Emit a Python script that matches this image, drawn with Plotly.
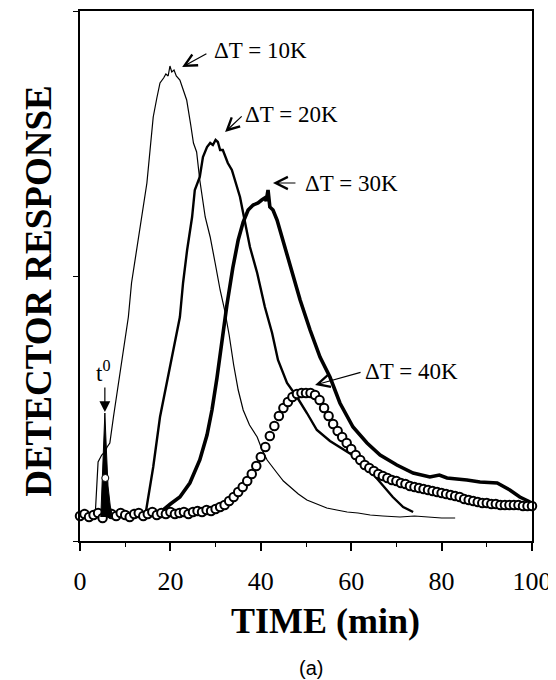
import plotly.graph_objects as go

# ---------------- data (time in min, detector response in arbitrary units) ----------------
t_10K = [0, 1, 2, 3, 3.4, 3.7, 4.0, 4.8, 5.5, 6.0, 6.6, 7.4, 8.5, 9.6, 10.7, 11.4, 12.5, 13.7,
         14.8, 15.5, 16.2, 17.0, 17.7, 18.5, 19.0, 19.5, 19.9, 20.3, 20.8, 21.3, 22.1, 23.0,
         23.6, 24.5, 25.1, 25.8, 26.5, 27.7, 28.8, 29.9, 31.0, 32.0, 33.0, 34.0, 35.0, 36.1,
         37.5, 39.2, 40.3, 41.4, 42.5, 43.6, 45.0, 46.5, 48.3, 50.2, 52.3, 54.6, 56.8, 59.1,
         61.5, 64.2, 67.0, 70.8, 74.0, 77.4, 80.0, 83.0]
r_10K = [26, 25, 27, 26, 29, 58, 79, 86, 89, 94, 98, 124, 158, 191, 224, 258, 291, 324,
         358, 391, 424, 443, 458, 463, 467, 465, 475, 469, 471, 465, 461, 449,
         441, 416, 398, 389, 361, 324, 304, 278, 251, 231, 206, 176, 151, 131,
         116, 104, 91, 81, 74, 68, 60, 54, 47, 41, 37, 33, 31, 29,
         28, 26, 25, 24, 25, 24, 23, 23]

t_20K = [6, 8, 10, 12, 13.5, 14.4, 15.0, 16.2, 17.7, 19.2, 20.6, 22.1, 22.8, 23.7, 24.8,
         25.4, 26.5, 27.2, 28.1, 28.8, 29.4, 30.0, 30.5, 31.0, 31.6, 32.1, 32.7, 33.6, 35.4,
         36.1, 37.6, 39.2, 40.9, 42.5, 43.8, 45.8, 48.0, 50.2, 52.4, 55.3, 59.1, 61.3, 63.5,
         66.4, 69.2, 71.5, 73.7]
r_20K = [26, 25, 27, 26, 27, 24, 41, 74, 124, 158, 191, 224, 258, 291, 324,
         351, 364, 384, 394, 398, 396, 401, 399, 391, 391, 384, 378, 371, 344,
         328, 294, 268, 234, 208, 181, 158, 144, 128, 111, 100, 89, 83, 74,
         59, 44, 34, 29]

t_30K = [6, 8, 10, 12, 13.3, 15, 16.5, 18.4, 20, 22.1, 24.3, 26.5, 28.1, 29.2, 30.3, 31.4,
         32.5, 33.8, 35, 36.1, 37.2, 38.3, 39.4, 40.2, 40.9, 41.2, 41.6, 42.0, 42.7, 43.6,
         44.9, 46.5, 48.7, 50.9, 53.1, 55.3, 57.5, 60.4, 63.5, 66.4, 70.1, 73.7, 77.4, 79.5,
         81.2, 85.6, 88.5, 92.3, 95.1, 97.3, 99.6]
r_30K = [25, 27, 26, 25, 25, 26, 28, 31, 37, 44, 58, 81, 106, 131, 163, 201,
         236, 273, 301, 319, 331, 336, 338, 341, 343, 340, 351, 334, 331, 321,
         301, 276, 241, 211, 184, 164, 138, 114, 98, 86, 76, 68, 64, 66,
         63, 61, 59, 58, 51, 44, 39]

t_40K = list(range(0, 101))
r_40K = [25, 27, 24, 26, 28, 23, 29, 27, 25, 28, 26, 24, 27, 28, 25, 27, 29, 26, 28, 27,
         29, 27, 28, 29, 27, 29, 30, 29, 31, 30, 32, 34, 36, 40, 44, 49, 54, 60, 67, 75,
         84, 94, 105, 115, 125, 133, 139, 144, 147, 148, 148, 148, 146, 141, 133, 125, 117, 110, 104, 98,
         92, 86, 81, 76, 73, 70, 67, 65, 63, 61, 60, 58, 57, 55, 54, 53, 52, 51, 50, 49,
         48, 47, 46, 45, 44, 42, 41, 40, 39, 38, 38, 37, 37, 36, 36, 36, 36, 36, 35, 35, 35]

# injection peak at t0
t_inj = [4.6, 4.9, 5.2, 5.5, 5.8, 6.2, 6.7, 7.2]
r_inj = [24, 55, 95, 128, 95, 55, 35, 24]
t_inj_circle = [5.6]
r_inj_circle = [63]

labels = ["ΔT = 10K", "ΔT = 20K", "ΔT = 30K", "ΔT = 40K"]
x_ticks = [0, 20, 40, 60, 80, 100]

# ---------------- figure ----------------
SERIF = "Liberation Serif, Times New Roman, serif"
fig = go.Figure()

fig.add_trace(go.Scatter(x=t_10K, y=r_10K, mode="lines",
                         line=dict(color="black", width=1.2), name=labels[0]))
fig.add_trace(go.Scatter(x=t_20K, y=r_20K, mode="lines",
                         line=dict(color="black", width=2.4), name=labels[1]))
fig.add_trace(go.Scatter(x=t_30K, y=r_30K, mode="lines",
                         line=dict(color="black", width=3.6), name=labels[2]))
fig.add_trace(go.Scatter(x=t_40K, y=r_40K, mode="markers", cliponaxis=False,
                         marker=dict(symbol="circle", size=8.5, color="white",
                                     line=dict(color="black", width=2)),
                         name=labels[3]))
fig.add_trace(go.Scatter(x=t_inj, y=r_inj, mode="lines", fill="toself",
                         fillcolor="black", line=dict(color="black", width=1)))
fig.add_trace(go.Scatter(x=t_inj_circle, y=r_inj_circle, mode="markers",
                         marker=dict(symbol="circle", size=7, color="white",
                                     line=dict(color="black", width=1))))

ann = []
# curve labels
label_pos = [(29.2, 491), (36.1, 427), (49.3, 358), (62.6, 170)]
for txt, (lx, ly) in zip(labels, label_pos):
    ann.append(dict(x=lx, y=ly, xref="x", yref="y", text=txt, showarrow=False,
                    xanchor="left", yanchor="middle",
                    font=dict(family=SERIF, size=23, color="black")))
# arrows to curves (tail -> tip)
arrows = [((28.3, 488), (22.6, 474)),
          ((36.1, 426), (32.1, 409)),
          ((48.0, 358), (42.7, 358)),
          ((62.4, 169), (52.0, 156))]
for (ax_, ay_), (tx, ty) in arrows:
    ann.append(dict(x=tx, y=ty, ax=ax_, ay=ay_, xref="x", yref="y", axref="x", ayref="y",
                    text="", showarrow=True, arrowhead=5, arrowsize=2.0, arrowwidth=1.2,
                    arrowcolor="black"))
# t0 marker
ann.append(dict(x=5.1, y=170, xref="x", yref="y", text="t<sup>0</sup>", showarrow=False,
                xanchor="center", yanchor="middle",
                font=dict(family=SERIF, size=23, color="black")))
ann.append(dict(x=5.5, y=129, ax=5.5, ay=155, xref="x", yref="y", axref="x", ayref="y",
                text="", showarrow=True, arrowhead=2, arrowsize=1.8, arrowwidth=1.2,
                arrowcolor="black"))
# axis titles
ann.append(dict(x=0.544, y=-0.151, xref="paper", yref="paper", text="<b>TIME (min)</b>",
                showarrow=False, xanchor="center", yanchor="middle",
                font=dict(family=SERIF, size=36, color="black")))
ann.append(dict(x=-0.0907, y=0.472, xref="paper", yref="paper",
                text="<b>DETECTOR RESPONSE</b>", textangle=-90,
                showarrow=False, xanchor="center", yanchor="middle",
                font=dict(family=SERIF, size=37, color="black")))
ann.append(dict(x=0.511, y=-0.2396, xref="paper", yref="paper", text="(a)",
                showarrow=False, xanchor="center", yanchor="middle",
                font=dict(family="Liberation Sans, Arial, sans-serif", size=20, color="black")))

# the page body adds an 8 px margin, so the figure is 8 px smaller and shifted
fig.update_layout(
    width=548, height=672,
    margin=dict(l=72, r=24, t=3, b=139, autoexpand=False),
    paper_bgcolor="white", plot_bgcolor="white",
    showlegend=False,
    annotations=ann,
    xaxis=dict(range=[0, 100], tickvals=x_ticks, ticktext=[str(v) for v in x_ticks],
               automargin=False,
               showgrid=False, zeroline=False, showline=True, linecolor="black",
               linewidth=2, mirror=True, ticks="outside", ticklen=8, tickwidth=1.5,
               tickcolor="black", ticklabelstandoff=8,
               minor=dict(tickvals=[10, 30, 50, 70, 90], ticks="outside", ticklen=4,
                          tickwidth=1, tickcolor="black"),
               tickfont=dict(family=SERIF, size=26, color="black")),
    yaxis=dict(range=[0, 530], tickvals=[0, 265, 530], showticklabels=False,
               automargin=False,
               showgrid=False, zeroline=False, showline=True, linecolor="black",
               linewidth=2, mirror=True, ticks="outside", ticklen=5, tickwidth=1.2,
               tickcolor="black"),
)

fig.write_html("out.html")
